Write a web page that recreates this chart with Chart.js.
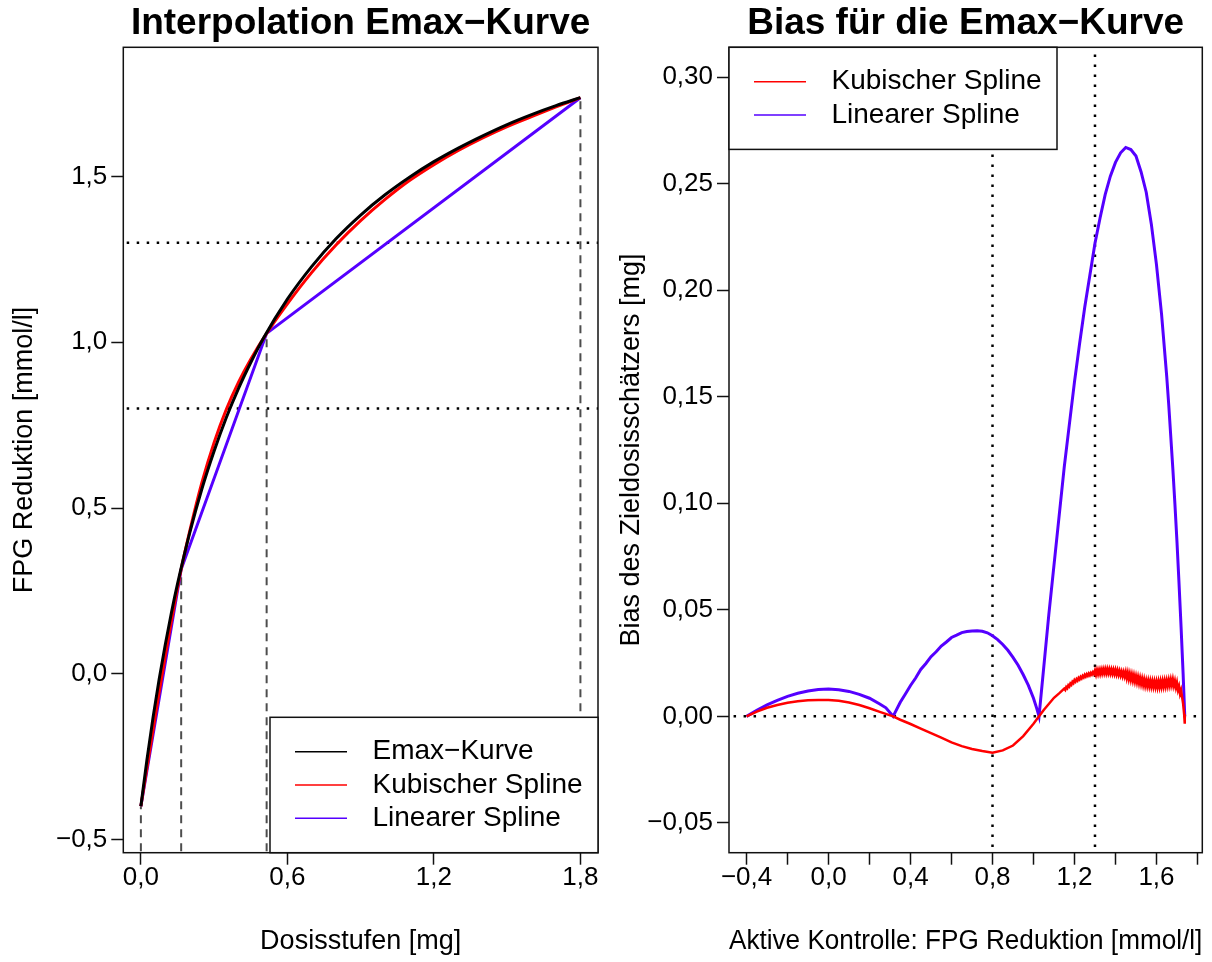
<!DOCTYPE html>
<html>
<head>
<meta charset="utf-8">
<script src="https://cdn.jsdelivr.net/npm/chart.js@4.4.1/dist/chart.umd.min.js"></script>
<style>
  html, body { margin: 0; padding: 0; background: #fff; }
  #wrap { position: relative; width: 1212px; height: 962px; }
  canvas { position: absolute; top: 0; }
  #emax { left: 0; }
  #bias { left: 606px; }
</style>
</head>
<body>
<div id="wrap">
  <canvas id="emax" width="606" height="962"></canvas>
  <canvas id="bias" width="606" height="962"></canvas>
</div>
<script>
// ---- Dose levels and the observed FPG reduction at each level ----
const doseLevels   = [0, 0.165, 0.515, 1.8];
const doseResponse = [-0.4, 0.315, 1.027, 1.738];

// Target effects used for the dose estimate (mmol/l)
const targetEffects = [0.8, 1.3];

// ---- Emax curve ----
const emaxDose = [0, 0.025, 0.05, 0.075, 0.1, 0.125, 0.15, 0.2, 0.25, 0.3, 0.35, 0.4, 0.45, 0.5,
                  0.6, 0.7, 0.8, 0.9, 1.0, 1.1, 1.2, 1.3, 1.4, 1.5, 1.6, 1.7, 1.8];
const emaxFpg  = [-0.4, -0.259, -0.131, -0.016, 0.088, 0.184, 0.271, 0.425, 0.558, 0.672, 0.773, 0.861, 0.939, 1.010,
                  1.130, 1.229, 1.313, 1.384, 1.445, 1.498, 1.545, 1.586, 1.623, 1.657, 1.687, 1.714, 1.738];

// ---- Cubic spline through the dose levels ----
const cubicDose = [0, 0.025, 0.05, 0.075, 0.1, 0.125, 0.165, 0.2, 0.25, 0.3, 0.35, 0.4, 0.45, 0.515,
                   0.6, 0.7, 0.8, 0.9, 1.0, 1.1, 1.2, 1.3, 1.4, 1.5, 1.6, 1.7, 1.8];
const cubicFpg  = [-0.4, -0.283, -0.168, -0.055, 0.054, 0.159, 0.315, 0.430, 0.577, 0.698, 0.798, 0.880, 0.949, 1.027,
                   1.116, 1.211, 1.294, 1.367, 1.431, 1.488, 1.536, 1.579, 1.617, 1.651, 1.681, 1.710, 1.738];

// ---- Linear spline: the dose levels joined directly ----
const linearDose = doseLevels;
const linearFpg  = doseResponse;

// ---- Bias of the target dose estimate, linear spline ----
const linBiasFpg = [-0.4, -0.35, -0.3, -0.25, -0.2, -0.15, -0.1, -0.05, 0, 0.05, 0.1, 0.15, 0.2, 0.25, 0.28, 0.315,
                    0.35, 0.375, 0.4, 0.425, 0.45, 0.475, 0.5, 0.525, 0.55, 0.575, 0.6, 0.625, 0.65, 0.675, 0.7, 0.725,
                    0.75, 0.775, 0.8, 0.825, 0.85, 0.875, 0.9, 0.925, 0.95, 0.975, 1.0, 1.015, 1.027,
                    1.05, 1.075, 1.1, 1.125, 1.15, 1.175, 1.2, 1.225, 1.25, 1.275, 1.3, 1.325, 1.35, 1.375, 1.4, 1.425,
                    1.45, 1.475, 1.5, 1.525, 1.55, 1.575, 1.6, 1.625, 1.65, 1.66, 1.68, 1.69, 1.7, 1.71, 1.72, 1.73, 1.738];
const linBias    = [0, 0.0028, 0.0054, 0.0075, 0.0094, 0.0108, 0.0119, 0.0126, 0.0128, 0.0125, 0.0117, 0.0103, 0.0085, 0.0058, 0.004, 0,
                    0.0066, 0.0105, 0.0145, 0.018, 0.022, 0.0248, 0.028, 0.0303, 0.033, 0.0349, 0.037, 0.0381, 0.0393, 0.0398, 0.0401, 0.0402,
                    0.0399, 0.0392, 0.0378, 0.036, 0.0337, 0.031, 0.0277, 0.024, 0.0195, 0.0145, 0.0085, 0.004, 0,
                    0.023, 0.048, 0.071, 0.094, 0.117, 0.137, 0.157, 0.175, 0.192, 0.207, 0.222, 0.234, 0.245, 0.2535, 0.260, 0.2645,
                    0.267, 0.266, 0.263, 0.2555, 0.246, 0.231, 0.212, 0.1885, 0.1595, 0.146, 0.116, 0.0996, 0.082, 0.0625, 0.042, 0.020, 0];

// ---- Bias of the target dose estimate, cubic spline ----
const cubicBiasFpg = [-0.4, -0.35, -0.3, -0.25, -0.2, -0.15, -0.1, -0.05, 0, 0.05, 0.1, 0.15, 0.2, 0.25, 0.315,
  0.35, 0.4, 0.45, 0.5, 0.55, 0.6, 0.65, 0.7, 0.75, 0.8, 0.85, 0.9, 0.95, 1.0, 1.027, 1.05, 1.1, 1.125,
  1.150, 1.155, 1.160, 1.165, 1.170, 1.175, 1.180, 1.185, 1.190, 1.195, 1.200, 1.205, 1.210, 1.215, 1.220, 1.225,
  1.230, 1.235, 1.240, 1.245, 1.250, 1.255, 1.260, 1.265, 1.270, 1.275, 1.280, 1.285, 1.290, 1.295, 1.300, 1.305,
  1.310, 1.315, 1.320, 1.325, 1.330, 1.335, 1.340, 1.345, 1.350, 1.355, 1.360, 1.365, 1.370, 1.375, 1.380, 1.385,
  1.390, 1.395, 1.400, 1.405, 1.410, 1.415, 1.420, 1.425, 1.430, 1.435, 1.440, 1.445, 1.450, 1.455, 1.460, 1.465,
  1.470, 1.475, 1.480, 1.485, 1.490, 1.495, 1.500, 1.505, 1.510, 1.515, 1.520, 1.525, 1.530, 1.535, 1.540, 1.545,
  1.550, 1.555, 1.560, 1.565, 1.570, 1.575, 1.580, 1.585, 1.590, 1.595, 1.600, 1.605, 1.610, 1.615, 1.620, 1.625,
  1.630, 1.635, 1.640, 1.645, 1.650, 1.655, 1.660, 1.665, 1.670, 1.675, 1.680, 1.685, 1.690, 1.695, 1.700, 1.705,
  1.710, 1.715, 1.720, 1.725, 1.730, 1.735, 1.738];
const cubicBias = [0, 0.0022, 0.0040, 0.0053, 0.0064, 0.0071, 0.0075, 0.0077, 0.0077, 0.0073, 0.0065, 0.0053, 0.0038, 0.0021, 0,
  -0.0016, -0.0036, -0.0058, -0.0079, -0.0100, -0.0122, -0.0140, -0.0153, -0.0163, -0.0171, -0.0160, -0.0137, -0.0093, -0.0035, 0, 0.0030, 0.0087, 0.0108,
  0.0130, 0.0124, 0.0138, 0.0132, 0.0146, 0.0140, 0.0154, 0.0148, 0.0162, 0.0156, 0.0170, 0.0163, 0.0175, 0.0168, 0.0180, 0.0173,
  0.0185, 0.0178, 0.0190, 0.0183, 0.0195, 0.0187, 0.0198, 0.0190, 0.0201, 0.0193, 0.0204, 0.0196, 0.0207, 0.0199, 0.0215, 0.0196,
  0.0217, 0.0198, 0.0218, 0.0199, 0.0220, 0.0201, 0.0221, 0.0202, 0.0222, 0.0202, 0.0222, 0.0202, 0.0221, 0.0201, 0.0220, 0.0200,
  0.0219, 0.0199, 0.0218, 0.0197, 0.0216, 0.0195, 0.0213, 0.0192, 0.0210, 0.0189, 0.0208, 0.0187, 0.0208, 0.0180, 0.0204, 0.0176,
  0.0200, 0.0172, 0.0196, 0.0168, 0.0192, 0.0164, 0.0188, 0.0160, 0.0184, 0.0156, 0.0180, 0.0152, 0.0176, 0.0148, 0.0172, 0.0144,
  0.0168, 0.0142, 0.0167, 0.0141, 0.0166, 0.0140, 0.0165, 0.0139, 0.0164, 0.0138, 0.0163, 0.0137, 0.0164, 0.0138, 0.0165, 0.0139,
  0.0166, 0.0140, 0.0167, 0.0141, 0.0168, 0.0143, 0.0170, 0.0145, 0.0172, 0.0147, 0.0173, 0.0144, 0.0166, 0.0136, 0.0158, 0.0124,
  0.0141, 0.0106, 0.0123, 0.0090, 0.0060, 0.0010, -0.0035];

// ---- Styling ----
const FONT = '"Liberation Sans", Arial, Helvetica, sans-serif';
const BLACK = '#000000';
const RED = '#ff0000';
const BLUE = '#5500ff';
const GREY = '#4d4d4d';
Chart.defaults.font.family = FONT;
Chart.defaults.color = BLACK;
Chart.defaults.animation = false;

const pts = (xs, ys) => xs.map((x, i) => ({ x, y: ys[i] }));

// Decimal comma and a true minus sign on tick labels
const fmt = digits => v => {
  if (Math.abs(v) < 1e-9) v = 0;
  const s = Math.abs(v).toFixed(digits).replace('.', ',');
  return v < 0 ? '\u2212' + s : s;
};

// Box around the plotting region
const frame = {
  id: 'frame',
  afterDatasetsDraw(chart) {
    const { ctx, chartArea: a } = chart;
    ctx.save();
    ctx.strokeStyle = '#111';
    ctx.lineWidth = 1.5;
    ctx.strokeRect(a.left, a.top, a.right - a.left, a.bottom - a.top);
    ctx.restore();
  }
};

// Boxed legend inside a corner of the plotting region
const boxLegend = {
  id: 'boxLegend',
  afterDatasetsDraw(chart, args, opts) {
    const items = chart.data.datasets.filter(d => d.label);
    const { ctx, chartArea: a } = chart;
    const w = 328, first = 34.4, step = 33.3;
    const h = 2 * first + (items.length - 1) * step;
    const x = opts.corner.includes('right') ? a.right - w : a.left;
    const y = opts.corner.includes('bottom') ? a.bottom - h : a.top;
    ctx.save();
    ctx.fillStyle = '#fff';
    ctx.fillRect(x, y, w, h);
    ctx.strokeStyle = '#111';
    ctx.lineWidth = 1.5;
    ctx.strokeRect(x, y, w, h);
    ctx.font = '28px ' + FONT;
    ctx.textBaseline = 'middle';
    ctx.textAlign = 'left';
    items.forEach((d, i) => {
      const yy = y + first + i * step;
      ctx.strokeStyle = d.borderColor;
      ctx.lineWidth = 1.5;
      ctx.beginPath();
      ctx.moveTo(x + 25, yy);
      ctx.lineTo(x + 77, yy);
      ctx.stroke();
      ctx.fillStyle = BLACK;
      ctx.fillText(d.label, x + 102.5, yy);
    });
    ctx.restore();
  }
};

const curve = (label, data, color, width, smooth) => ({
  label, data, borderColor: color, backgroundColor: color, borderWidth: width,
  pointRadius: 0, fill: false,
  cubicInterpolationMode: smooth ? 'monotone' : 'default', tension: 0
});
const refLine = (data, color, dash, width) => ({
  label: '', data, borderColor: color, borderWidth: width, borderDash: dash,
  pointRadius: 0, fill: false, tension: 0
});
const dotted = data => refLine(data, BLACK, [2.5, 7.5], 2.5);

function axes(x, y) {
  const tickGrid = {
    display: true, drawOnChartArea: false, drawTicks: true,
    tickLength: 12, tickWidth: 1.5, tickColor: '#111'
  };
  return {
    x: {
      type: 'linear', min: x.min, max: x.max,
      border: { display: false },
      grid: tickGrid,
      ticks: { stepSize: x.step, includeBounds: false, padding: -2, maxRotation: 0, autoSkip: false,
               font: { size: 26 }, color: BLACK, callback: x.label },
      title: { display: true, text: x.title, font: { size: 27 }, color: BLACK, padding: { top: 0, bottom: 3.8 } },
      afterFit: s => { s.height = 109.3; }
    },
    y: {
      type: 'linear', min: y.min, max: y.max,
      border: { display: false },
      grid: tickGrid,
      ticks: { stepSize: y.step, includeBounds: false, padding: 4, autoSkip: false,
               font: { size: 26 }, color: BLACK, callback: y.label },
      title: { display: true, text: y.title, font: { size: 27 }, color: BLACK, padding: { top: y.titlePad, bottom: 0 } },
      afterFit: s => { s.width = y.width; }
    }
  };
}

const titleOpts = text => ({
  display: true, text, fullSize: false, color: BLACK,
  font: { size: 37, weight: 'bold' }, padding: { top: 1.5, bottom: 1.4 }
});

// ---- Left: interpolation of the Emax curve ----
new Chart(document.getElementById('emax'), {
  type: 'line',
  data: {
    datasets: [
      curve('Emax\u2212Kurve', pts(emaxDose, emaxFpg), BLACK, 3, true),
      curve('Kubischer Spline', pts(cubicDose, cubicFpg), RED, 3, true),
      curve('Linearer Spline', pts(linearDose, linearFpg), BLUE, 3, false),
      ...targetEffects.map(t => dotted([{ x: -1, y: t }, { x: 3, y: t }])),
      ...doseLevels.map((d, i) => refLine([{ x: d, y: -1 }, { x: d, y: doseResponse[i] }], GREY, [8, 6], 2))
    ]
  },
  options: {
    responsive: false,
    layout: { padding: { left: 0, right: 8, top: 0, bottom: 0 } },
    plugins: {
      legend: { display: false },
      tooltip: { enabled: false },
      title: titleOpts('Interpolation Emax\u2212Kurve'),
      boxLegend: { corner: 'bottom-right' }
    },
    scales: axes(
      { min: -0.072, max: 1.872, step: 0.6, label: fmt(1), title: 'Dosisstufen [mg]' },
      { min: -0.54, max: 1.89, step: 0.5, label: fmt(1), title: 'FPG Reduktion [mmol/l]', titlePad: 8.8, width: 123.3 }
    )
  },
  plugins: [frame, boxLegend]
});

// ---- Right: bias of the target dose estimate ----
const labelEvery04 = v => (Math.abs(Math.round(v * 10)) % 4 === 0 ? fmt(1)(v) : '');

new Chart(document.getElementById('bias'), {
  type: 'line',
  data: {
    datasets: [
      curve('Kubischer Spline', pts(cubicBiasFpg, cubicBias), RED, 2.5, false),
      curve('Linearer Spline', pts(linBiasFpg, linBias), BLUE, 3, false),
      dotted([{ x: -1, y: 0 }, { x: 3, y: 0 }]),
      ...targetEffects.map(t => dotted([{ x: t, y: -1 }, { x: t, y: 1 }]))
    ]
  },
  options: {
    responsive: false,
    layout: { padding: { left: 0, right: 9.7, top: 0, bottom: 0 } },
    plugins: {
      legend: { display: false },
      tooltip: { enabled: false },
      title: titleOpts('Bias f\u00fcr die Emax\u2212Kurve'),
      boxLegend: { corner: 'top-left' }
    },
    scales: axes(
      { min: -0.4856, max: 1.8236, step: 0.2, label: labelEvery04, title: 'Aktive Kontrolle: FPG Reduktion [mmol/l]' },
      { min: -0.064, max: 0.314, step: 0.05, label: fmt(2), title: 'Bias des Zieldosissch\u00e4tzers [mg]', titlePad: 9.8, width: 123 }
    )
  },
  plugins: [frame, boxLegend]
});
</script>
</body>
</html>
